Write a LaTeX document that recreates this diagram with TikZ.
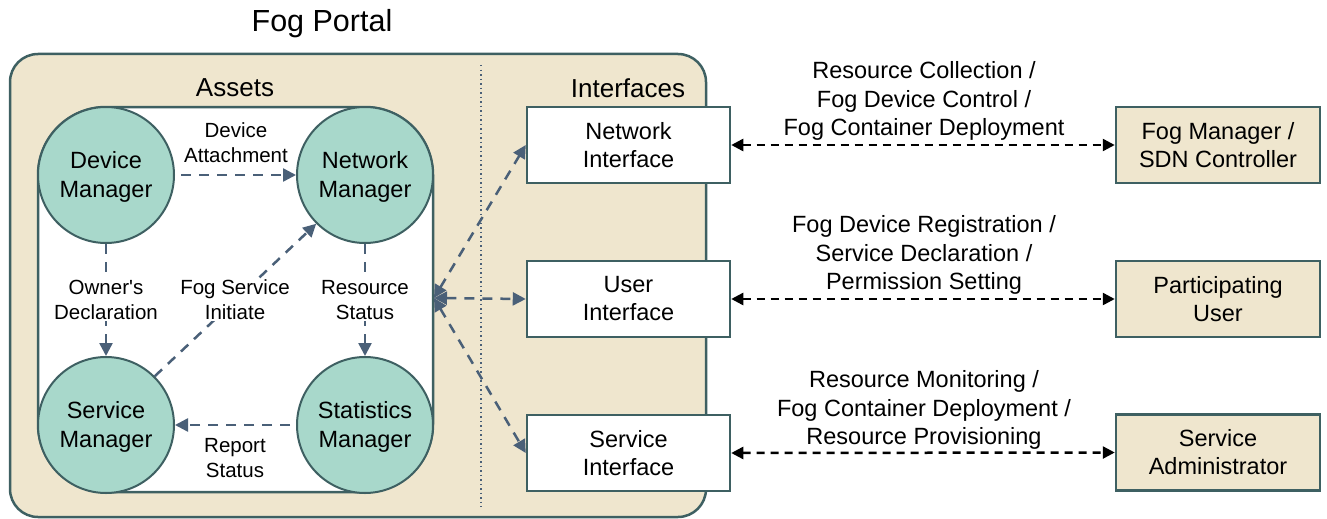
\documentclass[tikz,border=0pt]{standalone}
\usepackage{fontspec}
\setmainfont{Liberation Sans}[Ligatures=TeXOff]
\usetikzlibrary{arrows.meta}
\definecolor{beige}{HTML}{EFE6CE}
\definecolor{edge}{HTML}{3E6062}
\definecolor{teal}{HTML}{A8D8CB}
\definecolor{arrowblue}{HTML}{4A6078}
\tikzset{
  x=1pt, y=-1pt,
  panel/.style={draw=edge, line width=2.5pt, fill=beige},
  mgr/.style={circle, draw=edge, line width=2pt, fill=teal, minimum size=136pt, inner sep=0pt, align=center, font=\fontsize{23.5}{29}\selectfont},
  ifbox/.style={draw=edge, line width=2.5pt, fill=white, minimum width=203pt, minimum height=76pt, inner sep=0pt, align=center, font=\fontsize{23.5}{28}\selectfont},
  actbox/.style={draw=edge, line width=2.5pt, fill=beige, minimum width=204pt, minimum height=76pt, inner sep=0pt, align=center, font=\fontsize{23.5}{28}\selectfont},
  lbl/.style={align=center, inner sep=1pt, font=\fontsize{20.5}{25}\selectfont},
  wlbl/.style={lbl, fill=white},
  rlbl/.style={align=center, inner sep=0pt, font=\fontsize{23.5}{28.5}\selectfont},
  head/.style={font=\fontsize{26}{30}\selectfont, inner sep=0pt},
  flow/.style={draw=arrowblue, line width=2.5pt, dash pattern=on 10pt off 8pt, -{Triangle[length=13pt,width=13pt]}},
  bflow/.style={draw=arrowblue, line width=2.5pt, dash pattern=on 10pt off 8pt, {Triangle[length=13pt,width=13pt]}-{Triangle[length=13pt,width=13pt]}},
  link/.style={draw=black, line width=2.5pt, dash pattern=on 8pt off 6pt, {Triangle[length=12pt,width=12pt]}-{Triangle[length=12pt,width=12pt]}}
}
\begin{document}
\begin{tikzpicture}
\useasboundingbox (0,0) rectangle (1327,519);
% title
\node[font=\fontsize{30.5}{34}\selectfont, inner sep=0pt] (title) at (322,24) {Fog Portal};
% portal panel
\draw[panel, rounded corners=28pt] (10,54) rectangle (706,517);
\node[head] (assets) at (235,88) {Assets};
\node[head] (ifaces) at (628,88) {Interfaces};
\draw[draw=arrowblue, line width=1.5pt, dash pattern=on 1.5pt off 3pt] (481,65) -- (481,507);
% asset area
\draw[draw=edge, line width=2.5pt, fill=white, rounded corners=68pt] (38,107) rectangle (433,492);
\node[mgr] (dm) at (106,175) {\strut Device\\Manager};
\node[mgr] (nm) at (365,175) {\strut Network\\Manager};
\node[mgr] (sm) at (106,425) {\strut Service\\Manager};
\node[mgr] (stm) at (365,425) {\strut Statistics\\Manager};
% internal flows
\draw[flow, shorten <=6pt] (dm.east) -- (nm.west);
\node[lbl] (lda) at (236,143) {Device\\Attachment};
\draw[flow] (dm.south) -- (sm.north);
\draw[flow] (nm.south) -- (stm.north);
\draw[flow] (sm.45) -- (nm.225);
\draw[flow, shorten <=6pt] (stm.west) -- (sm.east);
\node[wlbl] (lod) at (106,300) {Owner's\\Declaration};
\node[wlbl] (lfs) at (235,300) {Fog Service\\Initiate};
\node[wlbl] (lrs) at (365,300) {Resource\\Status};
\node[lbl] (lrp) at (235,458) {Report\\Status};
% interfaces
\node[ifbox] (ni) at (628.5,145) {Network\\Interface};
\node[ifbox] (ui) at (628.5,299) {User\\Interface};
\node[ifbox] (si) at (628.5,453) {Service\\Interface};
\coordinate (hub) at (434,298);
\draw[bflow] (hub) -- (ni.west);
\draw[bflow] (hub) -- (ui.west);
\draw[bflow] (hub) -- (si.west);
% actors
\node[actbox] (fm) at (1218,145) {Fog Manager /\\SDN Controller};
\node[actbox] (pu) at (1218,299) {Participating\\User};
\node[actbox] (sa) at (1218,452.5) {Service\\Administrator};
\draw[link] (ni.east) -- (fm.west);
\draw[link] (ui.east) -- (pu.west);
\draw[link] (si.east) -- (sa.west);
\node[rlbl] (l1) at (924,101) {Resource Collection /\\Fog Device Control /\\Fog Container Deployment};
\node[rlbl] (l2) at (924,255) {Fog Device Registration /\\Service Declaration /\\Permission Setting};
\node[rlbl] (l3) at (924,410) {Resource Monitoring /\\Fog Container Deployment /\\Resource Provisioning};
\end{tikzpicture}
\end{document}
